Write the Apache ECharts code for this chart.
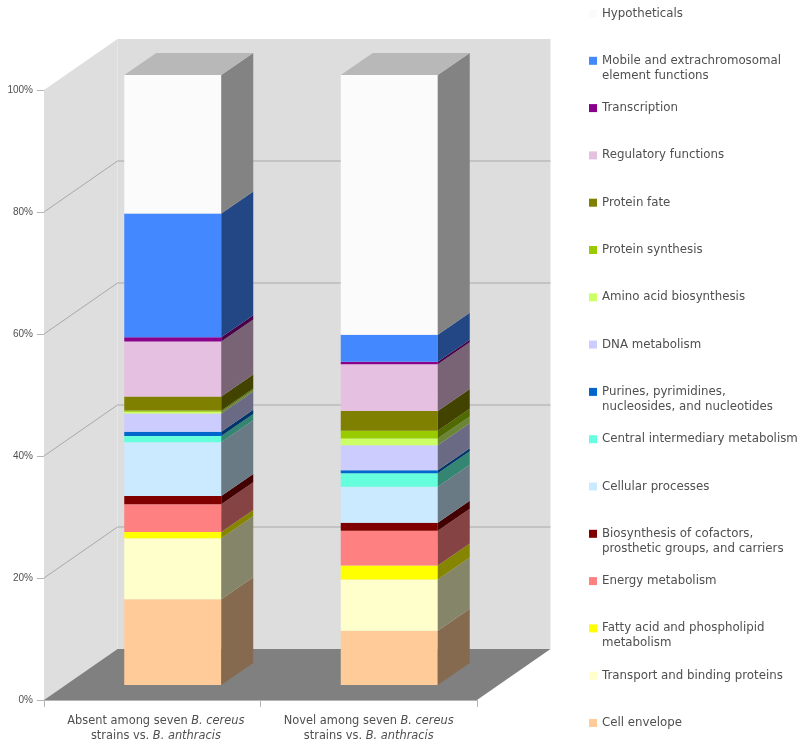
<!DOCTYPE html>
<html>
<head>
<meta charset="utf-8">
<style>html,body{margin:0;padding:0;background:#fff}#c{width:800px;height:746px}</style>
<script src="https://cdn.jsdelivr.net/npm/echarts@6/dist/echarts.min.js"></script>
</head>
<body>
<div id="c"></div>
<script>
// ---- data ----
const categories = [
  'Absent among seven {i|B. cereus}\nstrains vs. {i|B. anthracis}',
  'Novel among seven {i|B. cereus}\nstrains vs. {i|B. anthracis}'
];
const percentTicks = [0, 20, 40, 60, 80, 100];
// percent share of each role category, bar 1 then bar 2 (bottom to top of the stack)
const cellEnvelope   = [14.05, 8.9];
const transport      = [10.0, 8.4];
const fattyAcid      = [1.05, 2.3];
const energy         = [4.55, 5.7];
const biosynthesis   = [1.35, 1.3];
const cellular       = [8.8, 5.9];
const centralInter   = [1.0, 2.2];
const purines        = [0.7, 0.5];
const dnaMetabolism  = [3.0, 4.1];
const aminoAcid      = [0.3, 1.1];
const proteinSynth   = [0.2, 1.3];
const proteinFate    = [2.3, 3.2];
const regulatory     = [9.0, 7.7];
const transcription  = [0.7, 0.4];
const mobile         = [20.3, 4.4];
const hypotheticals  = [22.7, 42.6];

const stackNames = [
  'Cell envelope', 'Transport and binding proteins', 'Fatty acid and phospholipid\nmetabolism',
  'Energy metabolism', 'Biosynthesis of cofactors,\nprosthetic groups, and carriers', 'Cellular processes',
  'Central intermediary metabolism', 'Purines, pyrimidines,\nnucleosides, and nucleotides', 'DNA metabolism',
  'Amino acid biosynthesis', 'Protein synthesis', 'Protein fate', 'Regulatory functions', 'Transcription',
  'Mobile and extrachromosomal\nelement functions', 'Hypotheticals'
];
const stackValues = [
  cellEnvelope, transport, fattyAcid, energy, biosynthesis, cellular, centralInter, purines,
  dnaMetabolism, aminoAcid, proteinSynth, proteinFate, regulatory, transcription, mobile, hypotheticals
];
const stackColors = [
  '#ffcc99', '#ffffcc', '#ffff00', '#ff8080', '#800000', '#cceaff', '#66ffdd', '#0066cc',
  '#ccccff', '#ccff66', '#99cc00', '#808000', '#e6c0e0', '#8b008b', '#4488ff', '#fbfbfb'
];

// ---- 3D look ----
const DEPTH = [73.5, -51];     // offset from front plane to back wall
const BAR_FRONT = [20.5, -15]; // offset from front plane to front of bar
const BAR_SIDE = [32, -22];    // depth of a bar
const BAR_WIDTH = 0.448;       // share of a category band
const WALL = '#dddddd', SIDE_WALL = '#dedede', FLOOR = '#808080', GRID = '#a9a9a9', AXIS = '#b5b5b5', TEXT = '#4f4f4f';
const FONT = '"DejaVu Sans", sans-serif';

function shade(hex, k) {
  const n = parseInt(hex.slice(1), 16);
  const f = s => Math.round(((n >> s) & 255) * k);
  return `rgb(${f(16)},${f(8)},${f(0)})`;
}
const poly = (points, fill) => ({ type: 'polygon', shape: { points }, style: { fill }, silent: true });
const add = (p, d) => [p[0] + d[0], p[1] + d[1]];

function renderBox(params, api) {
  const left = api.coord([0, 0])[0] - api.size([1, 0])[0] / 2;
  const right = left + api.size([1, 0])[0] * categories.length;
  const y0 = api.coord([0, 0])[1];
  const y1 = api.coord([0, 100])[1];
  const children = [
    poly([add([left, y1], DEPTH), add([right, y1], DEPTH), add([right, y0], DEPTH), add([left, y0], DEPTH)], WALL),
    poly([[left, y1], add([left, y1], DEPTH), add([left, y0], DEPTH), [left, y0]], SIDE_WALL),
    poly([[left, y0], [right, y0], add([right, y0], DEPTH), add([left, y0], DEPTH)], FLOOR)
  ];
  percentTicks.slice(1, -1).forEach(t => {
    const y = api.coord([0, t])[1];
    const a = [left, y], b = add(a, DEPTH), c = add([right, y], DEPTH);
    children.push({ type: 'polyline', shape: { points: [a, b, c] }, style: { fill: null, stroke: GRID, lineWidth: 1 }, silent: true });
  });
  return { type: 'group', children };
}

function makeRenderSegment(color, isTop) {
  return function (params, api) {
    const i = api.value(0);
    const w = api.size([1, 0])[0] * BAR_WIDTH;
    const pb = add(api.coord([i, api.value(1)]), BAR_FRONT);
    const pt = add(api.coord([i, api.value(2)]), BAR_FRONT);
    const x0 = pb[0] - w / 2, x1 = pb[0] + w / 2;
    const children = [
      { type: 'rect', shape: { x: x0, y: pt[1], width: w, height: pb[1] - pt[1] }, style: { fill: color } },
      poly([[x1, pt[1]], add([x1, pt[1]], BAR_SIDE), add([x1, pb[1]], BAR_SIDE), [x1, pb[1]]], shade(color, 0.52))
    ];
    if (isTop) {
      children.push(poly([[x0, pt[1]], [x1, pt[1]], add([x1, pt[1]], BAR_SIDE), add([x0, pt[1]], BAR_SIDE)], '#b8b8b8'));
    }
    return { type: 'group', children };
  };
}

const running = categories.map(() => 0);
const barSeries = stackNames.map((name, s) => {
  const data = stackValues[s].map((v, i) => {
    const base = running[i];
    running[i] += v;
    return [i, base, running[i]];
  });
  return {
    type: 'custom', name, data, clip: false, z: 3 + s,
    itemStyle: { color: stackColors[s] },
    encode: { x: 0, y: [1, 2] },
    renderItem: makeRenderSegment(stackColors[s], s === stackNames.length - 1)
  };
});

const boxSeries = {
  type: 'custom', data: [[0, 0]], clip: false, z: 1, silent: true,
  encode: { x: 0, y: 1 }, renderItem: renderBox
};

// every legend row is three lines high, with a blank first line, so the swatch sits on the name's first line
function legendLabel(name) {
  const lines = name.split('\n');
  return '\u00a0\n' + lines[0] + '\n' + (lines[1] || '\u00a0');
}

const chart = echarts.init(document.getElementById('c'));
chart.setOption({
  animation: false,
  backgroundColor: '#fff',
  textStyle: { fontFamily: FONT },
  grid: { left: 44, right: 323, top: 90, bottom: 46, containLabel: false },
  xAxis: {
    type: 'category', data: categories,
    axisLine: { show: true, lineStyle: { color: AXIS } },
    axisTick: { show: true, length: 7, alignWithLabel: false, lineStyle: { color: AXIS } },
    axisLabel: {
      interval: 0, margin: 14, color: TEXT, fontSize: 11.4, lineHeight: 15, align: 'center',
      fontFamily: FONT,
      formatter: (value, index) => index === 0
        ? value.split('\n').map(l => '\u00a0\u00a0' + l).join('\n')
        : value,
      rich: { i: { fontStyle: 'italic', fontSize: 11.4, color: TEXT, lineHeight: 15, fontFamily: FONT } }
    }
  },
  yAxis: {
    type: 'value', min: 0, max: 100, interval: 20,
    splitLine: { show: false },
    axisLine: { show: true, lineStyle: { color: AXIS } },
    axisTick: { show: true, length: 7, lineStyle: { color: AXIS } },
    axisLabel: { margin: 11, color: TEXT, fontSize: 10, fontFamily: '"Liberation Sans", sans-serif', formatter: '{value}%' }
  },
  legend: {
    type: 'plain', orient: 'vertical', left: 589, top: -9, height: 800, padding: 0,
    itemWidth: 8, itemHeight: 8, itemGap: 2.3, icon: 'rect',
    selectedMode: false,
    data: stackNames.slice().reverse(),
    formatter: legendLabel,
    textStyle: { color: TEXT, fontSize: 11.8, lineHeight: 15, fontFamily: FONT }
  },
  series: [boxSeries].concat(barSeries)
});
</script>
</body>
</html>
